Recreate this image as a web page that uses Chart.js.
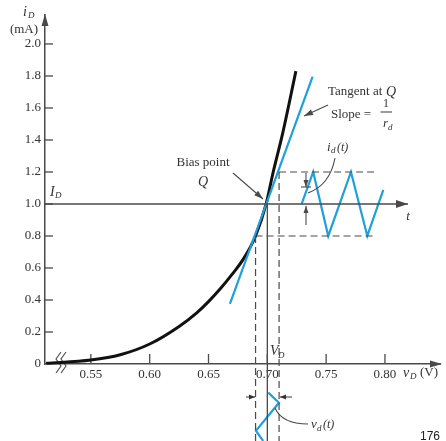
<!DOCTYPE html>
<html><head><meta charset="utf-8">
<script src="https://cdn.jsdelivr.net/npm/chart.js@4.4.1/dist/chart.umd.min.js"></script>
<style>html,body{margin:0;padding:0;background:#fff;} #wrap{width:446px;height:441px;position:relative;}</style>
</head><body><div id="wrap"><canvas id="c"></canvas></div>
<script>
// ---- data ----
const curveV = [0.512, 0.55, 0.575, 0.60, 0.625, 0.64, 0.65, 0.66, 0.67, 0.68, 0.69, 0.699, 0.705, 0.713, 0.7243];
const curveI = [0.004, 0.025, 0.058, 0.125, 0.235, 0.32, 0.39, 0.47, 0.56, 0.66, 0.80, 1.0, 1.2, 1.44, 1.83];
const tangentV = [0.6682, 0.7385];
const tangentI = [0.375, 1.796];
const idWaveT = [0.7292, 0.7390, 0.7518, 0.7711, 0.7850, 0.7986];   // time drawn along the x scale
const idWaveI = [1.0, 1.2, 0.8, 1.2, 0.8, 1.0875];
const vdWaveV = [0.7008, 0.7099, 0.6903, 0.6965];
const vdWaveT = [-0.179, -0.242, -0.417, -0.481];                  // time drawn downward on the y scale
const qPoint = [0.70, 1.0];
const vSwing = [0.69, 0.71];
const iSwing = [0.8, 1.2];
const xTicks = [0.55, 0.60, 0.65, 0.70, 0.75, 0.80];
const xTickLabels = ['0.55', '0.60', '0.65', '0.70', '0.75', '0.80'];
const yTicks = [0, 0.2, 0.4, 0.6, 0.8, 1.0, 1.2, 1.4, 1.6, 1.8, 2.0];
const yTickLabels = ['0', '0.2', '0.4', '0.6', '0.8', '1.0', '1.2', '1.4', '1.6', '1.8', '2.0'];
const xRange = [0.511, 0.8468];
const yRange = [0, 2.181];
const tAxisEnd = 0.8196;
const dashEnd = 0.7915;
const timeBottom = -0.49;

const BLUE = '#1f9fdb';
const GRAY = '#4a4a4a';
const TXT = '#333';
const SERIF = '"Liberation Serif", "DejaVu Serif", serif';

const pts = (xs, ys) => xs.map((x, i) => ({x, y: ys[i]}));
const lineDs = (data, color, width, extra) => Object.assign({
  data, borderColor: color, borderWidth: width, pointRadius: 0, showLine: true, fill: false, clip: false
}, extra || {});

const datasets = [
  lineDs([{x: xRange[0], y: qPoint[1]}, {x: tAxisEnd, y: qPoint[1]}], GRAY, 1.4),
  lineDs([{x: qPoint[0], y: qPoint[1]}, {x: qPoint[0], y: timeBottom}], GRAY, 1.3),
  lineDs([{x: vSwing[1], y: iSwing[1]}, {x: vSwing[1], y: timeBottom}], GRAY, 1.2, {borderDash: [7, 4]}),
  lineDs([{x: vSwing[0], y: iSwing[0]}, {x: vSwing[0], y: timeBottom}], GRAY, 1.2, {borderDash: [7, 4]}),
  lineDs([{x: vSwing[1], y: iSwing[1]}, {x: dashEnd, y: iSwing[1]}], GRAY, 1.2, {borderDash: [7, 4]}),
  lineDs([{x: vSwing[0], y: iSwing[0]}, {x: dashEnd, y: iSwing[0]}], GRAY, 1.2, {borderDash: [7, 4]}),
  lineDs(pts(tangentV, tangentI), BLUE, 2.2),
  lineDs(pts(curveV, curveI), '#111', 3, {cubicInterpolationMode: 'monotone'}),
  lineDs(pts(idWaveT, idWaveI), BLUE, 2.2),
  lineDs(pts(vdWaveV, vdWaveT), BLUE, 2.2)
];

function txt(ctx, s, x, y, size, opts) {
  opts = opts || {};
  ctx.font = (opts.italic ? 'italic ' : '') + size + 'px ' + SERIF;
  ctx.fillStyle = TXT;
  ctx.textAlign = opts.align || 'left';
  ctx.textBaseline = 'middle';
  ctx.fillText(s, x, y);
  return ctx.measureText(s).width;
}
function arrowHead(ctx, x1, y1, x2, y2, len, w) {
  const a = Math.atan2(y2 - y1, x2 - x1);
  ctx.beginPath();
  ctx.moveTo(x2, y2);
  ctx.lineTo(x2 - len * Math.cos(a) + w * Math.sin(a), y2 - len * Math.sin(a) - w * Math.cos(a));
  ctx.lineTo(x2 - len * Math.cos(a) - w * Math.sin(a), y2 - len * Math.sin(a) + w * Math.cos(a));
  ctx.closePath();
  ctx.fill();
}
function arrow(ctx, x1, y1, x2, y2, len, w) {
  ctx.beginPath(); ctx.moveTo(x1, y1); ctx.lineTo(x2, y2); ctx.stroke();
  arrowHead(ctx, x1, y1, x2, y2, len, w);
}

const decor = {
  id: 'decor',
  beforeDatasetsDraw(chart) {
    const ctx = chart.ctx, xs = chart.scales.x, ys = chart.scales.y, a = chart.chartArea;
    ctx.save();
    ctx.strokeStyle = GRAY; ctx.fillStyle = GRAY; ctx.lineWidth = 1.3;
    // inward tick marks
    xs.ticks.forEach(t => { const x = xs.getPixelForValue(t.value);
      ctx.beginPath(); ctx.moveTo(x, a.bottom); ctx.lineTo(x, a.bottom - 10); ctx.stroke(); });
    ys.ticks.forEach(t => { if (t.value === 0) return; const y = ys.getPixelForValue(t.value);
      ctx.beginPath(); ctx.moveTo(a.left, y); ctx.lineTo(a.left + 8, y); ctx.stroke(); });
    // axis arrowheads
    arrowHead(ctx, a.left, a.bottom, a.left, a.top - 1, 12, 3.5);
    arrowHead(ctx, a.left, a.bottom, a.right + 2, a.bottom, 12, 3.5);
    // t-axis arrowhead
    const yq = ys.getPixelForValue(qPoint[1]);
    arrowHead(ctx, a.left, yq, xs.getPixelForValue(tAxisEnd), yq, 12, 4);
    // axis break
    ctx.lineWidth = 1.1;
    [58, 63].forEach(x0 => {
      ctx.beginPath();
      ctx.moveTo(x0 + 3, a.bottom - 12); ctx.lineTo(x0 - 2, a.bottom - 5);
      ctx.lineTo(x0 + 3, a.bottom + 2); ctx.lineTo(x0 - 2, a.bottom + 9); ctx.stroke();
    });
    ctx.restore();
  },
  afterDatasetsDraw(chart) {
    const ctx = chart.ctx;
    ctx.save();
    ctx.strokeStyle = GRAY; ctx.fillStyle = GRAY; ctx.lineWidth = 1.1;
    // axis titles
    txt(ctx, 'i', 23, 12, 14, {italic: true});
    txt(ctx, 'D', 28, 16, 9, {italic: true});
    txt(ctx, '(mA)', 24, 30, 13, {align: 'center'});
    // x axis title
    txt(ctx, 'v', 403, 373, 14, {italic: true});
    txt(ctx, 'D', 410, 377, 9, {italic: true});
    txt(ctx, '(V)', 420, 373, 13);
    // I_D label
    txt(ctx, 'I', 50, 192, 14, {italic: true});
    txt(ctx, 'D', 55, 196, 9, {italic: true});
    // Bias point
    txt(ctx, 'Bias point', 203, 163, 13, {align: 'center'});
    txt(ctx, 'Q', 203, 182, 14, {italic: true, align: 'center'});
    ctx.fillStyle = GRAY;
    arrow(ctx, 233, 173, 263, 199, 9, 3);
    // Tangent at Q
    txt(ctx, 'Tangent at', 328, 92, 13);
    txt(ctx, 'Q', 386, 92, 14, {italic: true});
    txt(ctx, 'Slope =', 331, 115, 13);
    txt(ctx, '1', 386, 104, 12, {align: 'center'});
    ctx.strokeStyle = GRAY; ctx.beginPath(); ctx.moveTo(380.5, 112); ctx.lineTo(392, 112); ctx.stroke();
    txt(ctx, 'r', 383, 124, 13, {italic: true});
    txt(ctx, 'd', 388, 128, 9, {italic: true});
    ctx.fillStyle = GRAY;
    arrow(ctx, 328, 105, 304, 116, 9, 3);
    // i_d(t)
    txt(ctx, 'i', 327, 148, 13, {italic: true});
    txt(ctx, 'd', 331, 151, 9, {italic: true});
    txt(ctx, '(t)', 337, 148, 12, {italic: true});
    ctx.strokeStyle = GRAY;
    ctx.beginPath(); ctx.moveTo(335, 158); ctx.quadraticCurveTo(330, 185, 308, 193); ctx.stroke();
    // amplitude arrows
    ctx.fillStyle = GRAY;
    arrow(ctx, 306, 173, 306, 187, 7, 2.5);
    ctx.beginPath(); ctx.moveTo(301, 187); ctx.lineTo(311, 187); ctx.stroke();
    arrow(ctx, 306, 225, 306, 206, 7, 2.5);
    // t label
    txt(ctx, 't', 408, 217, 13, {italic: true, align: 'center'});
    // V_D label
    txt(ctx, 'V', 270, 351, 14, {italic: true});
    txt(ctx, 'D', 278, 356, 9, {italic: true});
    // bottom swing arrows
    arrow(ctx, 246, 397, 255, 397, 6, 2.5);
    arrow(ctx, 292, 397, 280, 397, 6, 2.5);
    // v_d(t)
    ctx.beginPath(); ctx.moveTo(275, 408); ctx.quadraticCurveTo(282, 424, 308, 424); ctx.stroke();
    txt(ctx, 'v', 311, 425, 13, {italic: true});
    txt(ctx, 'd', 317, 429, 9, {italic: true});
    txt(ctx, '(t)', 323, 425, 12, {italic: true});
    // page number
    ctx.font = '12px "Liberation Sans", Arial, sans-serif';
    ctx.fillStyle = '#222'; ctx.textAlign = 'left'; ctx.textBaseline = 'middle';
    ctx.fillText('176', 420, 437);
    ctx.restore();
  }
};

new Chart(document.getElementById('c'), {
  type: 'scatter',
  data: {datasets},
  options: {
    responsive: true, maintainAspectRatio: false, animation: false,
    layout: {padding: {top: 15, right: 6, left: 0, bottom: 0}},
    plugins: {legend: {display: false}, tooltip: {enabled: false}},
    elements: {line: {tension: 0}},
    scales: {
      x: {
        type: 'linear', min: xRange[0], max: xRange[1],
        grid: {display: true, drawOnChartArea: false, drawTicks: false},
        border: {display: true, color: GRAY, width: 1.5},
        ticks: {font: {family: SERIF, size: 13}, color: TXT, padding: 3,
          callback: (v, i) => xTickLabels[i]},
        afterBuildTicks: s => { s.ticks = xTicks.map(v => ({value: v})); },
        afterFit: s => { s.height = 77; }
      },
      y: {
        type: 'linear', min: yRange[0], max: yRange[1],
        grid: {display: true, drawOnChartArea: false, drawTicks: false},
        border: {display: true, color: GRAY, width: 1.5},
        ticks: {font: {family: SERIF, size: 13}, color: TXT, padding: 4,
          callback: (v, i) => yTickLabels[i]},
        afterBuildTicks: s => { s.ticks = yTicks.map(v => ({value: v})); },
        afterFit: s => { s.width = 45; }
      }
    }
  },
  plugins: [decor]
});
</script></body></html>
